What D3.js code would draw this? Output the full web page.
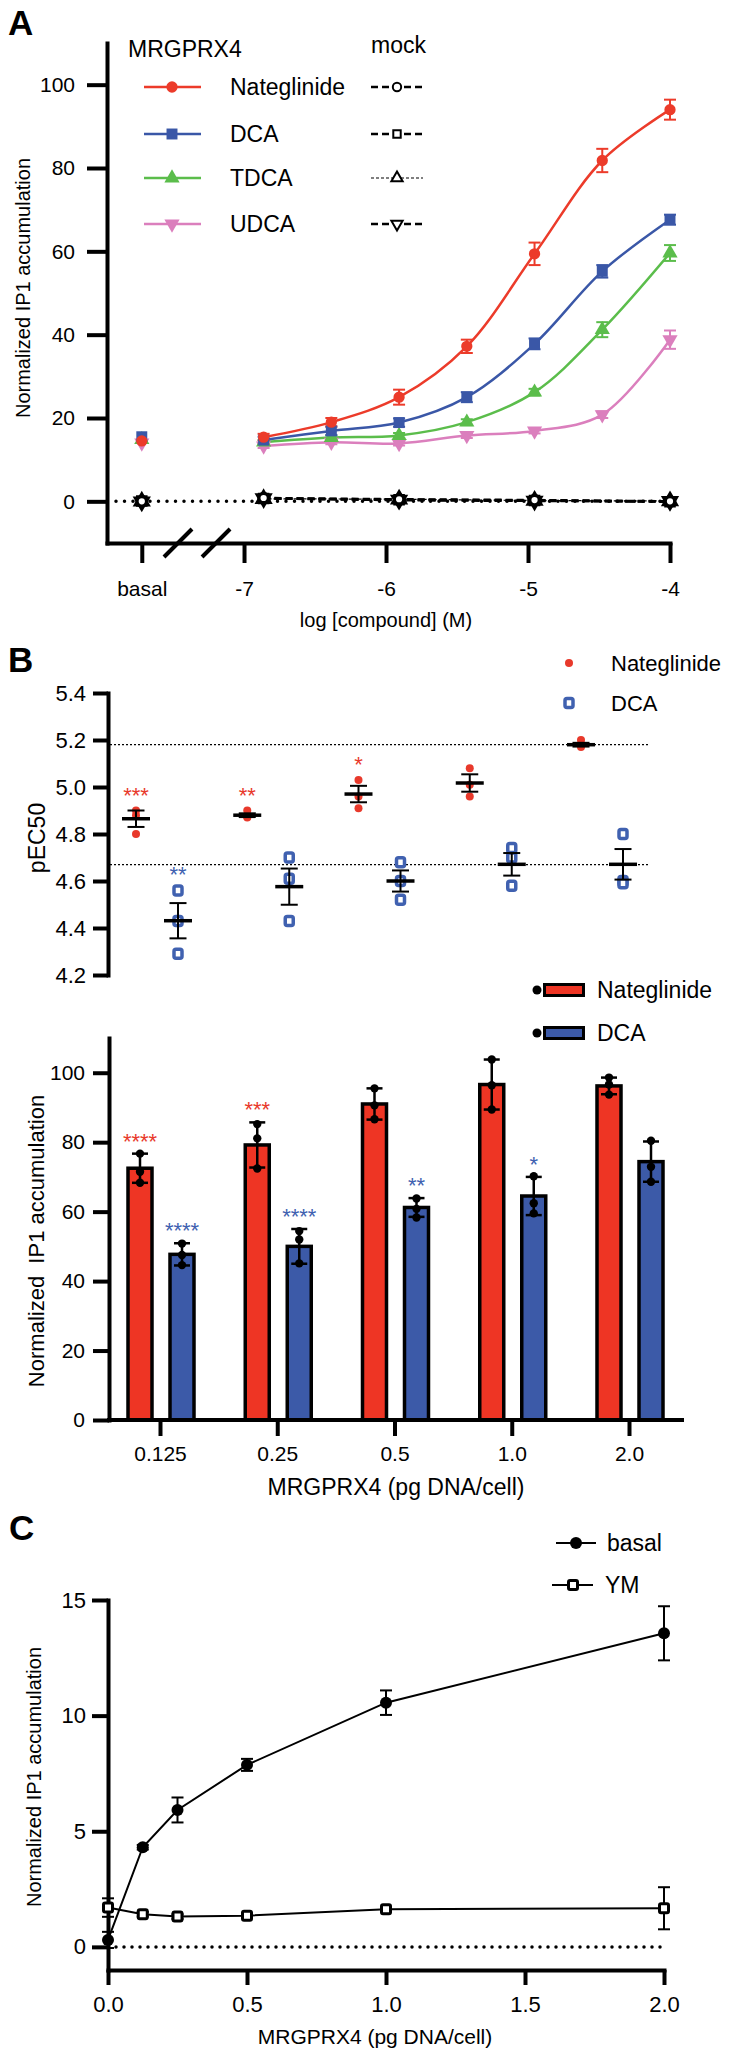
<!DOCTYPE html>
<html>
<head>
<meta charset="utf-8">
<script src="https://cdn.jsdelivr.net/npm/d3@7"></script>
<style>
  body { margin: 0; background: #fff; }
  svg { display: block; font-family: "Liberation Sans", Arial, Helvetica, sans-serif; }
</style>
</head>
<body>
<svg id="fig"></svg>
<script>
// ---------- panel A: concentration-response ----------
const doses      = [-6.862, -6.385, -5.908, -5.431, -4.954, -4.477, -4];
const mockDoses  = [-6.862, -5.908, -4.954, -4];
const compounds  = ['Nateglinide', 'DCA', 'TDCA', 'UDCA'];
const meansA = {
  Nateglinide: [15.4, 19.0, 25.0, 37.2, 59.4, 81.8, 94.0],
  DCA:         [14.7, 16.9, 18.9, 25.0, 37.8, 55.2, 67.6],
  TDCA:        [14.2, 15.3, 15.8, 19.0, 26.2, 41.2, 59.6],
  UDCA:        [13.3, 14.2, 13.9, 15.8, 16.9, 20.8, 38.8]
};
const errA = {
  Nateglinide: [0.8, 1.0, 1.8, 1.6, 2.7, 2.8, 2.4],
  DCA:         [0.8, 1.0, 1.0, 1.2, 1.3, 1.5, 1.2],
  TDCA:        [0.5, 0.5, 0.6, 0.7, 0.8, 1.8, 1.9],
  UDCA:        [0.5, 0.5, 0.5, 0.6, 0.6, 0.8, 2.2]
};
const basalA = { Nateglinide: 14.5, DCA: 15.5, TDCA: 14.8, UDCA: 14.0 };
const mockA = {
  Nateglinide: [0.8, 0.5, 0.3, 0.0],
  DCA:         [0.7, 0.4, 0.2, -0.1],
  TDCA:        [0.6, 0.5, 0.2, 0.1],
  UDCA:        [0.7, 0.3, 0.1, 0.0]
};
const mockBasal = { Nateglinide: 0.0, DCA: 0.1, TDCA: 0.0, UDCA: -0.1 };
const yTicksA = [0, 20, 40, 60, 80, 100];
const xTicksA = [-7, -6, -5, -4];

// ---------- panel B: pEC50 ----------
const groups = ['0.125', '0.25', '0.5', '1.0', '2.0'];
const natPec = [[4.90, 4.80, 4.88], [4.90, 4.875, 4.87], [5.03, 4.96, 4.91], [5.08, 5.01, 4.96], [5.20, 5.17, 5.18]];
const natPecMean = [4.865, 4.88, 4.97, 5.017, 5.18];
const natPecSem  = [0.035, 0.008, 0.035, 0.037, 0.008];
const dcaPec = [[4.56, 4.43, 4.29], [4.70, 4.61, 4.43], [4.68, 4.60, 4.52], [4.74, 4.70, 4.58], [4.80, 4.60, 4.59]];
const dcaPecMean = [4.431, 4.576, 4.60, 4.671, 4.671];
const dcaPecSem  = [0.075, 0.077, 0.045, 0.048, 0.065];
const pecRefs = [5.18, 4.67];
const natPecStars = ['***', '**', '*', '', ''];
const dcaPecStars = ['**', '', '', '', ''];
const yTicksP = [4.2, 4.4, 4.6, 4.8, 5.0, 5.2, 5.4];

// ---------- panel B: bars ----------
const natBar   = [72.5, 79.2, 91.0, 96.6, 96.2];
const natBarSd = [4.2, 6.5, 4.5, 7.2, 2.4];
const dcaBar   = [47.7, 50.0, 61.2, 64.5, 74.4];
const dcaBarSd = [3.2, 5.0, 2.7, 5.5, 5.8];
const natBarPts = [[76.7, 71.5, 68.3], [85.2, 81.1, 72.4], [95.5, 90.6, 86.6], [103.8, 96.4, 89.4], [98.6, 96.6, 93.7]];
const dcaBarPts = [[50.8, 47.5, 44.6], [54.4, 52.0, 45.1], [63.8, 60.8, 58.3], [70.2, 62.4, 59.5], [80.4, 72.9, 68.6]];
const natBarStars = ['****', '***', '', '', ''];
const dcaBarStars = ['****', '****', '**', '*', ''];
const yTicksBar = [0, 20, 40, 60, 80, 100];

// ---------- panel C ----------
const dnaC     = [0, 0.125, 0.25, 0.5, 1.0, 2.0];
const basalC   = [0.3, 4.31, 5.92, 7.87, 10.56, 13.56];
const basalCEr = [0.35, 0.1, 0.54, 0.26, 0.53, 1.17];
const ymC      = [1.7, 1.41, 1.31, 1.35, 1.63, 1.67];
const ymCEr    = [0.4, 0.1, 0.1, 0.1, 0.1, 0.91];
const yTicksC  = [0, 5, 10, 15];
const xTicksC  = [0, 0.5, 1.0, 1.5, 2.0];

// ---------- style ----------
const colA = { Nateglinide: '#ec3b2a', DCA: '#3a57a7', TDCA: '#5bbd4b', UDCA: '#db7fbd' };
const RED = '#ee3524', BLUE = '#3c5aa8';
const symA = {
  Nateglinide: d3.symbol().type(d3.symbolCircle).size(100),
  DCA: d3.symbol().type(d3.symbolSquare).size(120),
  TDCA: d3.symbol().type(d3.symbolTriangle).size(100),
  UDCA: d3.symbol().type(d3.symbolTriangle).size(100)
};
const rotA = { Nateglinide: 0, DCA: 0, TDCA: 0, UDCA: 180 };
const BASAL_POS = -7.72;

const svg = d3.select('#fig').attr('width', 729).attr('height', 2057);

function styleAxis(g, sw, fs) {
  g.attr('font-family', null).attr('font-size', null);
  g.select('.domain').attr('stroke-width', sw).attr('stroke-linecap', 'square');
  g.selectAll('.tick line').attr('stroke-width', sw);
  g.selectAll('.tick text').attr('font-size', fs).attr('fill', '#000');
}

function errBar(g, x, y1, y2, cap, color, sw) {
  g.append('line').attr('x1', x).attr('x2', x).attr('y1', y1).attr('y2', y2)
    .attr('stroke', color).attr('stroke-width', sw);
  [y1, y2].forEach(y => g.append('line').attr('x1', x - cap / 2).attr('x2', x + cap / 2)
    .attr('y1', y).attr('y2', y).attr('stroke', color).attr('stroke-width', sw));
}

function panelLabel(t, x, y) {
  svg.append('text').attr('x', x).attr('y', y).attr('font-size', 35)
    .attr('font-weight', 'bold').text(t);
}

// ================= A =================
panelLabel('A', 8, 35);
const xA = d3.scaleLinear().domain([-7.965, -4]).range([107, 670]);
const yA = d3.scaleLinear().domain([-10, 110]).range([543, 43]);
const gA = svg.append('g');

gA.append('g').attr('transform', 'translate(107,0)')
  .call(d3.axisLeft(yA).tickValues(yTicksA).tickSize(20).tickPadding(12).tickSizeOuter(0))
  .call(g => styleAxis(g, 4, 21));

gA.append('g').attr('transform', 'translate(0,543)')
  .call(d3.axisBottom(xA).tickValues([BASAL_POS].concat(xTicksA)).tickSize(20).tickPadding(18)
    .tickSizeOuter(0).tickFormat(d => d === BASAL_POS ? 'basal' : d3.format('d')(d).replace('−', '-')))
  .call(g => styleAxis(g, 4, 21));

// axis break marks
[-7.465, -7.197].forEach(v => {
  gA.append('line').attr('x1', xA(v) - 14).attr('x2', xA(v) + 14)
    .attr('y1', 557).attr('y2', 529).attr('stroke', '#000').attr('stroke-width', 4);
});

// zero dotted line
gA.append('line').attr('x1', xA.range()[0] + 9).attr('x2', xA(-4))
  .attr('y1', yA(0)).attr('y2', yA(0)).attr('stroke', '#000').attr('stroke-width', 3.5)
  .attr('stroke-dasharray', '0,8.5').attr('stroke-linecap', 'round');

const lineA = d3.line().x(d => xA(d[0])).y(d => yA(d[1])).curve(d3.curveCatmullRom.alpha(0.5));

// mock series
compounds.slice().reverse().forEach(c => {
  const pts = mockDoses.map((d, i) => [d, mockA[c][i]]);
  gA.append('path').datum(pts).attr('d', lineA).attr('fill', 'none').attr('stroke', '#000')
    .attr('stroke-width', c === 'TDCA' ? 1.2 : 2.5).attr('stroke-dasharray', c === 'TDCA' ? '3,2' : '7,4');
});
compounds.slice().reverse().forEach(c => {
  const pts = [[BASAL_POS, mockBasal[c]]].concat(mockDoses.map((d, i) => [d, mockA[c][i]]));
  gA.selectAll(null).data(pts).enter().append('path')
    .attr('d', d3.symbol().type(symA[c].type()).size(70))
    .attr('transform', d => `translate(${xA(d[0])},${yA(d[1])}) rotate(${rotA[c]})`)
    .attr('fill', '#fff').attr('stroke', '#000').attr('stroke-width', 3.2);
});

// colored series
compounds.slice().reverse().forEach(c => {
  const pts = doses.map((d, i) => [d, meansA[c][i]]);
  gA.append('path').datum(pts).attr('d', lineA).attr('fill', 'none')
    .attr('stroke', colA[c]).attr('stroke-width', 2.5);
  pts.forEach((p, i) => errBar(gA, xA(p[0]), yA(p[1] - errA[c][i]), yA(p[1] + errA[c][i]), 12, colA[c], 2));
});
compounds.slice().reverse().forEach(c => {
  const pts = [[BASAL_POS, basalA[c]]].concat(doses.map((d, i) => [d, meansA[c][i]]));
  gA.selectAll(null).data(pts).enter().append('path')
    .attr('d', symA[c])
    .attr('transform', d => `translate(${xA(d[0])},${yA(d[1])}) rotate(${rotA[c]})`)
    .attr('fill', colA[c]);
});

// legend A
gA.append('text').attr('x', 128).attr('y', 57).attr('font-size', 23).text('MRGPRX4');
gA.append('text').attr('x', 371).attr('y', 53).attr('font-size', 23).text('mock');
const legYA = [87, 134, 178, 224];
compounds.forEach((c, i) => {
  const y = legYA[i];
  gA.append('line').attr('x1', 144).attr('x2', 201).attr('y1', y).attr('y2', y)
    .attr('stroke', colA[c]).attr('stroke-width', 2.5);
  gA.append('path').attr('d', symA[c]).attr('transform', `translate(172,${y}) rotate(${rotA[c]})`)
    .attr('fill', colA[c]);
  gA.append('text').attr('x', 230).attr('y', y + 8).attr('font-size', 23).text(c);
  gA.append('line').attr('x1', 371).attr('x2', 423).attr('y1', y).attr('y2', y)
    .attr('stroke', '#000').attr('stroke-width', c === 'TDCA' ? 1.2 : 2.5)
    .attr('stroke-dasharray', c === 'TDCA' ? '3,2' : '7,4');
  gA.append('path').attr('d', d3.symbol().type(symA[c].type()).size(55))
    .attr('transform', `translate(397,${y}) rotate(${rotA[c]})`)
    .attr('fill', '#fff').attr('stroke', '#000').attr('stroke-width', 2);
});

gA.append('text').attr('transform', 'translate(30,288) rotate(-90)').attr('text-anchor', 'middle')
  .attr('font-size', 20).text('Normalized IP1 accumulation');
gA.append('text').attr('x', 386).attr('y', 627).attr('text-anchor', 'middle')
  .attr('font-size', 20).text('log [compound] (M)');

// ================= B top =================
panelLabel('B', 8, 672);
const yP = d3.scaleLinear().domain([4.2, 5.4]).range([975, 693]);
const xP = d3.scalePoint().domain(groups).range([157, 602]);
const offP = d3.scalePoint().domain(['Nateglinide', 'DCA']).range([-21, 21]);
const gP = svg.append('g');

gP.append('g').attr('transform', 'translate(108,0)')
  .call(d3.axisLeft(yP).tickValues(yTicksP).tickSize(15).tickPadding(7).tickSizeOuter(0)
    .tickFormat(d3.format('.1f')))
  .call(g => styleAxis(g, 4, 22));

pecRefs.forEach(v => {
  gP.append('line').attr('x1', 110).attr('x2', 648).attr('y1', yP(v)).attr('y2', yP(v))
    .attr('stroke', '#000').attr('stroke-width', 1.3).attr('stroke-dasharray', '2,2');
});

function pecSeries(name, pts, means, sems, stars, color, isSquare) {
  groups.forEach((gname, i) => {
    const x = xP(gname) + offP(name);
    pts[i].forEach(v => {
      if (isSquare) {
        gP.append('rect').attr('x', x - 4).attr('y', yP(v) - 4.5).attr('width', 8).attr('height', 9)
          .attr('rx', 2).attr('fill', '#fff').attr('stroke', color).attr('stroke-width', 3.5);
      } else {
        gP.append('circle').attr('cx', x).attr('cy', yP(v)).attr('r', 4).attr('fill', color);
      }
    });
    gP.append('line').attr('x1', x - 14).attr('x2', x + 14).attr('y1', yP(means[i])).attr('y2', yP(means[i]))
      .attr('stroke', '#000').attr('stroke-width', 3.5);
    errBar(gP, x, yP(means[i] - sems[i]), yP(means[i] + sems[i]), 17, '#000', 2);
    if (stars[i]) {
      gP.append('text').attr('x', x).attr('y', yP(d3.max(pts[i])) - 8).attr('text-anchor', 'middle')
        .attr('font-size', 22).attr('fill', color).text(stars[i]);
    }
  });
}
pecSeries('Nateglinide', natPec, natPecMean, natPecSem, natPecStars, '#e8392b', false);
pecSeries('DCA', dcaPec, dcaPecMean, dcaPecSem, dcaPecStars, '#4061b0', true);

gP.append('circle').attr('cx', 569).attr('cy', 663).attr('r', 4).attr('fill', '#e8392b');
gP.append('text').attr('x', 611).attr('y', 671).attr('font-size', 22).text('Nateglinide');
gP.append('rect').attr('x', 565).attr('y', 698.5).attr('width', 8).attr('height', 9).attr('rx', 2)
  .attr('fill', '#fff').attr('stroke', '#4061b0').attr('stroke-width', 3.5);
gP.append('text').attr('x', 611).attr('y', 711).attr('font-size', 22).text('DCA');

gP.append('text').attr('transform', 'translate(45,838) rotate(-90)').attr('text-anchor', 'middle')
  .attr('font-size', 23).text('pEC50');

// ================= B bars =================
const yB = d3.scaleLinear().domain([0, 110]).range([1420, 1038]);
const xB = d3.scalePoint().domain(groups).range([160, 629]);
const offB = d3.scalePoint().domain(['Nateglinide', 'DCA']).range([-20, 22]);
const gB = svg.append('g');
const barW = 24;

function barSeries(name, vals, fill) {
  groups.forEach((gname, i) => {
    const x = xB(gname) + offB(name);
    gB.append('rect').attr('x', x - barW / 2).attr('y', yB(vals[i])).attr('width', barW)
      .attr('height', yB(0) - yB(vals[i])).attr('fill', fill).attr('stroke', '#000').attr('stroke-width', 3.5);
  });
}
function barDecor(name, vals, sds, pts, stars, starCol) {
  groups.forEach((gname, i) => {
    const x = xB(gname) + offB(name);
    errBar(gB, x, yB(vals[i] - sds[i]), yB(vals[i] + sds[i]), 16, '#000', 2.5);
    pts[i].forEach(v => gB.append('circle').attr('cx', x).attr('cy', yB(v)).attr('r', 4.2).attr('fill', '#000'));
    if (stars[i]) {
      gB.append('text').attr('x', x).attr('y', yB(vals[i] + sds[i]) - 5).attr('text-anchor', 'middle')
        .attr('font-size', 22).attr('fill', starCol).text(stars[i]);
    }
  });
}
barSeries('Nateglinide', natBar, RED);
barSeries('DCA', dcaBar, BLUE);
barDecor('Nateglinide', natBar, natBarSd, natBarPts, natBarStars, '#e8392b');
barDecor('DCA', dcaBar, dcaBarSd, dcaBarPts, dcaBarStars, '#4061b0');

gB.append('g').attr('transform', 'translate(109,0)')
  .call(d3.axisLeft(yB).tickValues(yTicksBar).tickSize(16).tickPadding(8).tickSizeOuter(0))
  .call(g => styleAxis(g, 4, 21));
gB.append('g').attr('transform', `translate(0,${yB(0)})`)
  .call(d3.axisBottom(xB).tickSize(16).tickPadding(10).tickSizeOuter(0))
  .call(g => styleAxis(g, 4, 21))
  .call(g => g.select('.domain').attr('d', 'M109,0H682'));

[['Nateglinide', RED, 990], ['DCA', BLUE, 1033]].forEach(([n, c, y]) => {
  gB.append('circle').attr('cx', 537).attr('cy', y).attr('r', 4.5).attr('fill', '#000');
  gB.append('rect').attr('x', 544.5).attr('y', y - 5.5).attr('width', 39).attr('height', 11)
    .attr('fill', c).attr('stroke', '#000').attr('stroke-width', 3);
  gB.append('text').attr('x', 597).attr('y', y + 8).attr('font-size', 23).text(n);
});

gB.append('text').attr('transform', 'translate(44,1241) rotate(-90)').attr('text-anchor', 'middle')
  .attr('font-size', 22).style('white-space', 'pre').text('Normalized  IP1 accumulation');
gB.append('text').attr('x', 396).attr('y', 1495).attr('text-anchor', 'middle')
  .attr('font-size', 23).text('MRGPRX4 (pg DNA/cell)');

// ================= C =================
panelLabel('C', 9, 1540);
const xC = d3.scaleLinear().domain([0, 2]).range([108, 664]);
const yC = d3.scaleLinear().domain([-1, 15]).range([1970, 1600]);
const gC = svg.append('g');

gC.append('line').attr('x1', xC(0) + 8).attr('x2', xC(2)).attr('y1', yC(0)).attr('y2', yC(0))
  .attr('stroke', '#000').attr('stroke-width', 3.5).attr('stroke-dasharray', '0,8')
  .attr('stroke-linecap', 'round');

gC.append('g').attr('transform', 'translate(108,0)')
  .call(d3.axisLeft(yC).tickValues(yTicksC).tickSize(16).tickPadding(6).tickSizeOuter(0))
  .call(g => styleAxis(g, 4, 22));
gC.append('g').attr('transform', 'translate(0,1970)')
  .call(d3.axisBottom(xC).tickValues(xTicksC).tickSize(15).tickPadding(11).tickSizeOuter(0)
    .tickFormat(d3.format('.1f')))
  .call(g => styleAxis(g, 4, 22));

const lineC = d3.line().x(d => xC(d[0])).y(d => yC(d[1]));
const ymPts = dnaC.map((d, i) => [d, ymC[i]]);
const basalPts = dnaC.map((d, i) => [d, basalC[i]]);
gC.append('path').datum(ymPts).attr('d', lineC).attr('fill', 'none').attr('stroke', '#000').attr('stroke-width', 2);
gC.append('path').datum(basalPts).attr('d', lineC).attr('fill', 'none').attr('stroke', '#000').attr('stroke-width', 2);
ymPts.forEach((p, i) => errBar(gC, xC(p[0]), yC(p[1] - ymCEr[i]), yC(p[1] + ymCEr[i]), 12, '#000', 2));
basalPts.forEach((p, i) => errBar(gC, xC(p[0]), yC(p[1] - basalCEr[i]), yC(p[1] + basalCEr[i]), 12, '#000', 2));
ymPts.forEach(p => gC.append('rect').attr('x', xC(p[0]) - 4.5).attr('y', yC(p[1]) - 4.5)
  .attr('width', 9).attr('height', 9).attr('rx', 1.5).attr('fill', '#fff').attr('stroke', '#000').attr('stroke-width', 3));
basalPts.forEach(p => gC.append('circle').attr('cx', xC(p[0])).attr('cy', yC(p[1])).attr('r', 6).attr('fill', '#000'));

gC.append('line').attr('x1', 556).attr('x2', 596).attr('y1', 1543).attr('y2', 1543).attr('stroke', '#000').attr('stroke-width', 2);
gC.append('circle').attr('cx', 576).attr('cy', 1543).attr('r', 6).attr('fill', '#000');
gC.append('text').attr('x', 607).attr('y', 1551).attr('font-size', 23).text('basal');
gC.append('line').attr('x1', 552).attr('x2', 593).attr('y1', 1585).attr('y2', 1585).attr('stroke', '#000').attr('stroke-width', 2);
gC.append('rect').attr('x', 568.5).attr('y', 1580.5).attr('width', 9).attr('height', 9).attr('rx', 1.5)
  .attr('fill', '#fff').attr('stroke', '#000').attr('stroke-width', 3);
gC.append('text').attr('x', 605).attr('y', 1593).attr('font-size', 23).text('YM');

gC.append('text').attr('transform', 'translate(41,1777) rotate(-90)').attr('text-anchor', 'middle')
  .attr('font-size', 20).text('Normalized IP1 accumulation');
gC.append('text').attr('x', 375).attr('y', 2044).attr('text-anchor', 'middle')
  .attr('font-size', 21).text('MRGPRX4 (pg DNA/cell)');
</script>
</body>
</html>
